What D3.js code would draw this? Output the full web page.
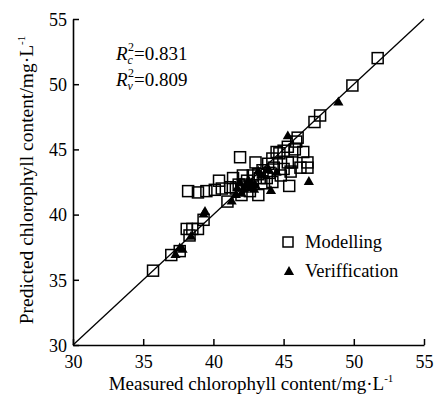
<!DOCTYPE html>
<html><head><meta charset="utf-8">
<script src="https://cdn.jsdelivr.net/npm/d3@7"></script>
<style>body{margin:0;background:#fff}svg{display:block}svg text{font-family:"Liberation Serif","Times New Roman","DejaVu Serif",serif;fill:#000}</style>
</head><body><div id="c"></div>
<script>
const xTicks = [30, 35, 40, 45, 50, 55];
const yTicks = [30, 35, 40, 45, 50, 55];
const modelling = [
 [35.7,35.7],[37.0,36.9],[37.6,37.2],[38.3,38.4],[38.1,38.9],[38.5,38.9],[38.9,38.9],[39.3,39.6],
 [38.2,41.8],[38.9,41.7],[39.5,41.8],[40.1,41.9],[40.6,42.0],[41.2,42.1],[41.6,42.0],[42.1,42.3],
 [40.4,42.6],[41.4,42.8],[42.1,43.0],[42.8,43.0],[43.2,43.1],[43.0,44.0],[41.9,44.4],
 [41.0,41.0],[42.0,41.5],[42.6,41.8],[43.2,41.5],[43.6,42.4],[44.2,42.5],
 [41.8,42.3],[42.4,42.6],[43.3,42.8],[43.8,42.8],[44.0,43.2],
 [43.5,43.4],[43.9,43.9],[44.2,44.3],[44.5,44.8],[44.3,43.6],[44.8,43.0],[45.0,43.5],[45.3,44.0],[45.5,43.3],[45.6,44.0],
 [44.7,44.7],[45.0,44.9],[45.3,45.2],[45.8,45.0],[46.0,45.9],[45.9,45.6],[46.4,44.8],[46.7,44.0],[46.7,43.6],[46.2,43.6],[45.4,42.2],
 [47.2,47.1],[47.6,47.6],[49.9,49.9],[51.7,52.0]
];
const verification = [
 [37.3,36.9],[37.6,37.4],[37.8,37.3],[38.4,38.3],[39.3,40.0],[39.4,40.2],[41.3,41.0],[41.7,42.0],[42.0,41.6],
 [42.3,42.2],[42.6,42.0],[42.9,41.9],[42.5,42.6],[43.2,43.3],[43.4,43.0],[43.9,43.5],[44.1,41.8],[44.5,43.2],
 [41.9,42.4],[42.2,41.9],[42.7,42.4],[43.0,42.2],[41.6,41.5],
 [45.3,46.0],[46.8,42.5],[48.9,48.6]
];
const fitLine = [[30,30],[55,55]];

const W = 437, H = 398;
const FONT = "'Liberation Serif', 'Times New Roman', serif";
const svg = d3.select("#c").append("svg").attr("width", W).attr("height", H)
  .attr("font-family", FONT);
const x = d3.scaleLinear().domain([30,55]).range([73,424]);
const y = d3.scaleLinear().domain([30,55]).range([345,19]);

// 1:1 line
svg.append("path").datum(fitLine)
  .attr("d", d3.line().x(d=>x(d[0])).y(d=>y(d[1])))
  .attr("stroke","#000").attr("stroke-width",1.3).attr("fill","none");

// axes
const xAxis = svg.append("g").attr("transform",`translate(0,${y(30)})`)
  .call(d3.axisBottom(x).tickValues(xTicks).tickSizeInner(-6).tickSizeOuter(0).tickPadding(10));
const yAxis = svg.append("g").attr("transform",`translate(${x(30)},0)`)
  .call(d3.axisLeft(y).tickValues(yTicks).tickSizeInner(-6).tickSizeOuter(0).tickPadding(6));
[xAxis,yAxis].forEach(g=>{
  g.attr("font-family", FONT);
  g.select(".domain").attr("stroke","#000").attr("stroke-width",1.6);
  g.selectAll(".tick line").attr("stroke","#000").attr("stroke-width",1.5);
  g.selectAll(".tick text").style("font-family",FONT).style("font-size","18px").attr("fill","#000");
});
yAxis.selectAll(".tick text").attr("x",-6).attr("dy","0.35em");

// markers
const sq = 11;
svg.append("g").selectAll("rect").data(modelling).join("rect")
  .attr("x",d=>x(d[0])-sq/2).attr("y",d=>y(d[1])-sq/2).attr("width",sq).attr("height",sq)
  .attr("fill","none").attr("stroke","#000").attr("stroke-width",1.5);
const tri = d3.symbol().type(d3.symbolTriangle).size(45);
svg.append("g").selectAll("path").data(verification).join("path")
  .attr("d",tri).attr("transform",d=>`translate(${x(d[0])},${y(d[1])})`).attr("fill","#000");

// legend
svg.append("rect").attr("x",283).attr("y",237).attr("width",10).attr("height",10)
  .attr("fill","none").attr("stroke","#000").attr("stroke-width",1.5);
svg.append("text").attr("x",305).attr("y",248).style("font-family",FONT).style("font-size","18.5px").text("Modelling");
svg.append("path").attr("d",tri).attr("transform","translate(289,272)").attr("fill","#000");
svg.append("text").attr("x",305).attr("y",277).style("font-family",FONT).style("font-size","18.5px").text("Veriffication");

// R2 annotations
function rLabel(yy, sub, val){
  const t = svg.append("text").attr("x",116).attr("y",yy).style("font-family",FONT).style("font-size","19px");
  t.append("tspan").style("font-style","italic").text("R");
  t.append("tspan").style("font-style","italic").style("font-size","12px").attr("dy",4).text(sub);
  t.append("tspan").style("font-size","12px").attr("dx",-5).attr("dy",-13).text("2");
  t.append("tspan").attr("dy",9).text("=" + val);
}
rLabel(60, "c", "0.831");
rLabel(86, "v", "0.809");

// axis titles
const xt = svg.append("text").attr("x",251).attr("y",390).attr("text-anchor","middle")
  .style("font-family",FONT).style("font-size","19px");
xt.append("tspan").text("Measured chlorophyll content/mg·L");
xt.append("tspan").style("font-size","11px").attr("dy",-8).text("-1");
const yt = svg.append("text").attr("transform",`translate(33,${180}) rotate(-90)`).attr("text-anchor","middle")
  .style("font-family",FONT).style("font-size","19.5px");
yt.append("tspan").text("Predicted chlorophyll content/mg·L");
yt.append("tspan").style("font-size","11px").attr("dy",-8).text("-1");
</script></body></html>
